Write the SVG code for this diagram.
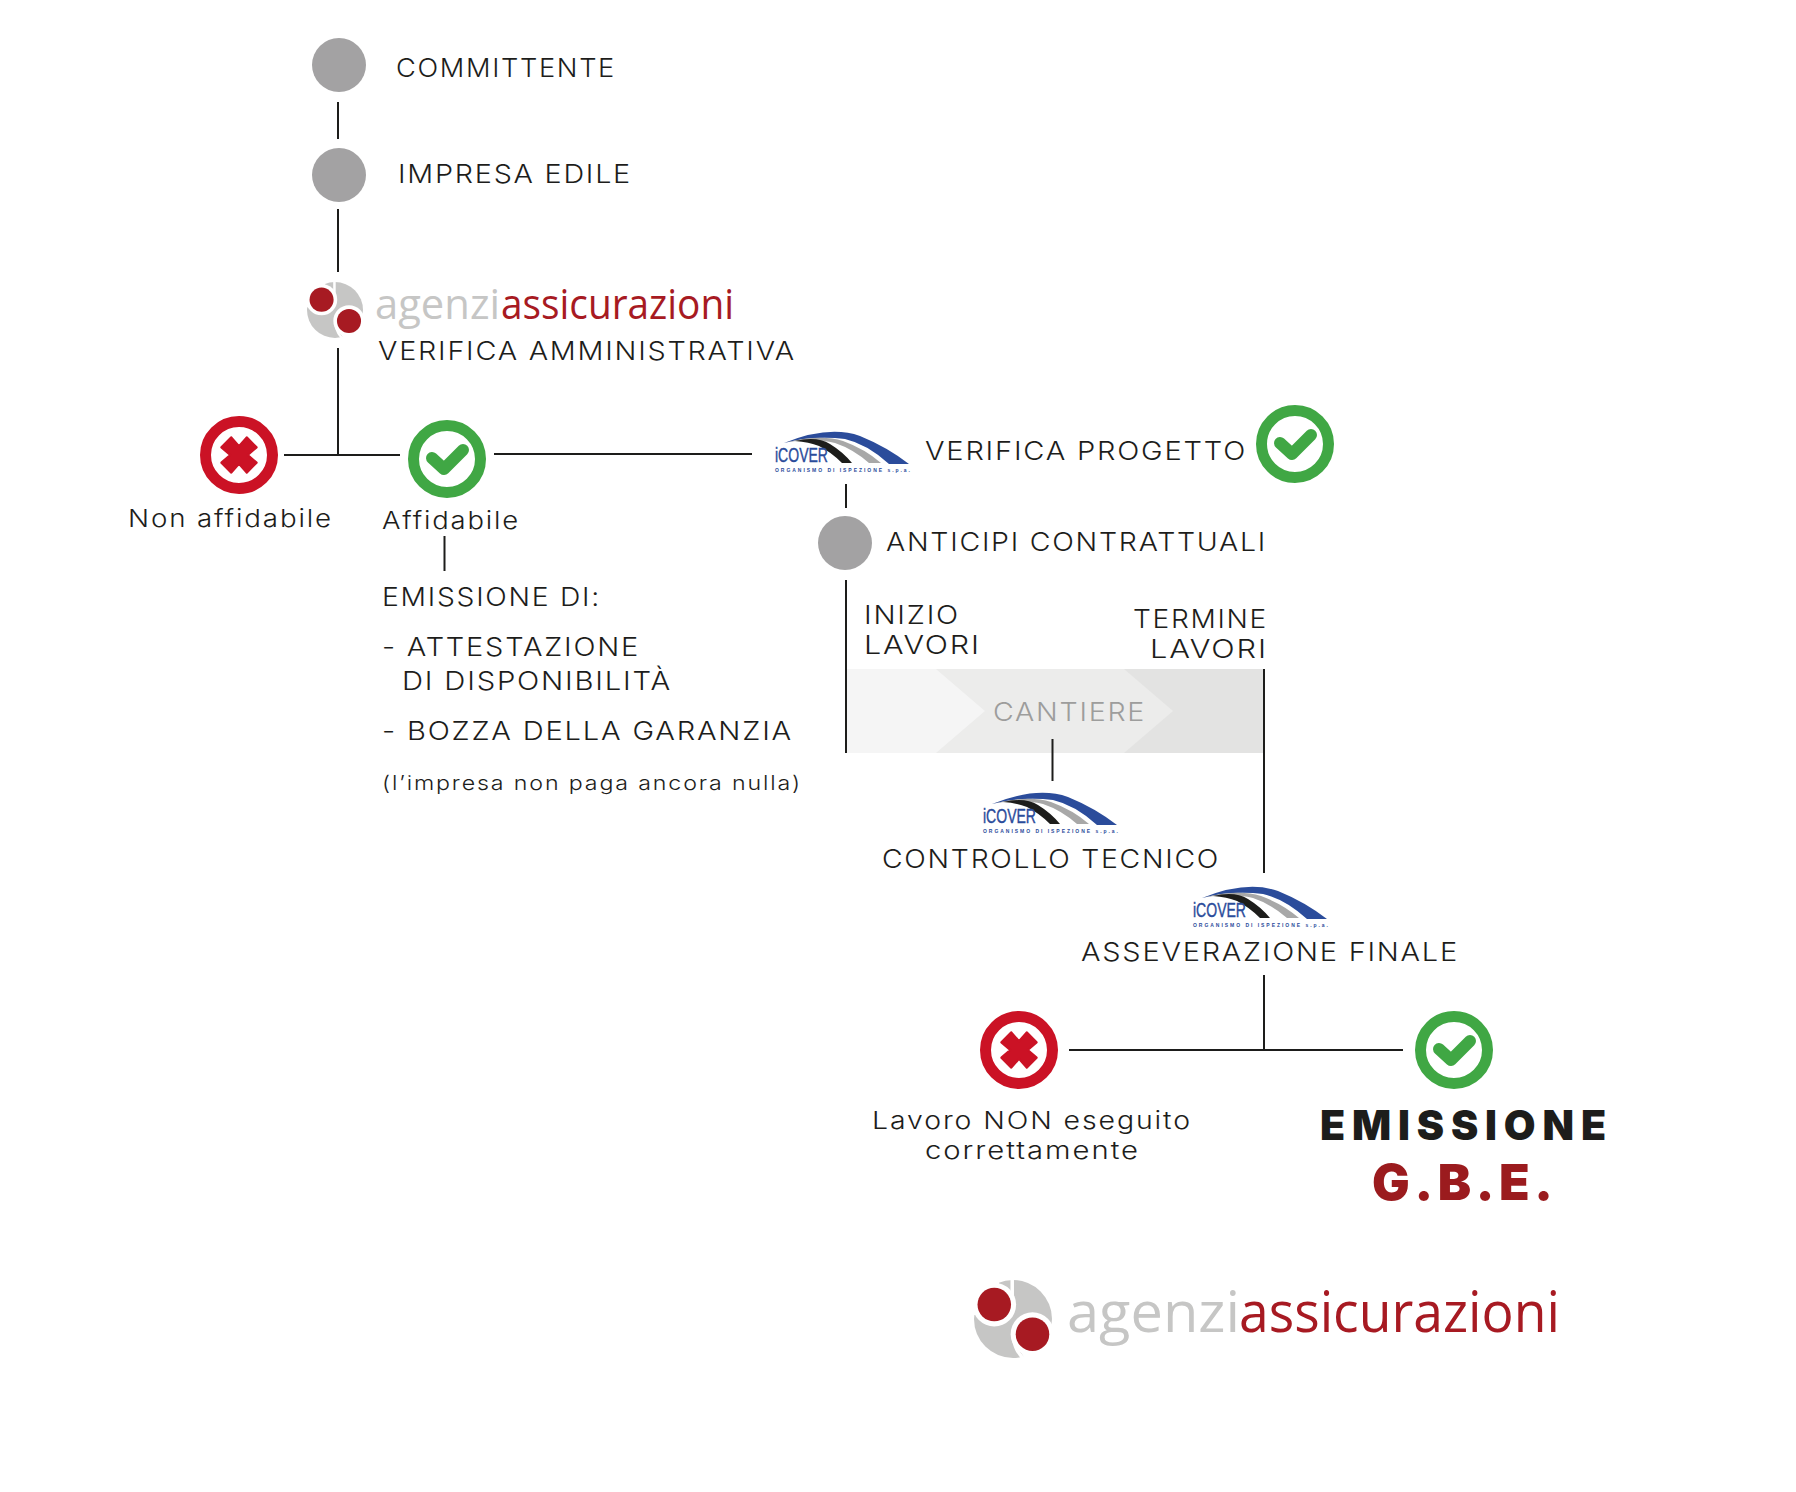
<svg xmlns="http://www.w3.org/2000/svg" xmlns:xlink="http://www.w3.org/1999/xlink" width="1796" height="1492" viewBox="0 0 1796 1492">
<style>
.t{font-family:"Inter","Liberation Sans",sans-serif;font-weight:300;font-size:26px;fill:#1d1d1b;letter-spacing:1.600px}
.s{font-size:24px}
.xs{font-size:20px}
.big{font-family:"Inter","Liberation Sans",sans-serif;font-weight:900}
.lg{font-family:"Open Sans","Liberation Sans",sans-serif}
.c line{stroke:#1d1d1b;stroke-width:2;fill:none}
.dot{fill:#a3a2a3}
.ic1{font-family:"Liberation Sans",sans-serif;font-size:20px;fill:#2b4c9b;stroke:#2b4c9b;stroke-width:.4}
.ic2{font-family:"Liberation Sans",sans-serif;font-weight:700;font-size:5px;fill:#2b4c9b}
</style>
<defs>
<g id="ok"><circle r="33.500" fill="#fff" stroke="#40a744" stroke-width="11"/><path d="M-15,-1 L-3,10 L16,-9" fill="none" stroke="#40a744" stroke-width="12" stroke-linejoin="round" stroke-linecap="round"/></g>
<g id="ko"><circle r="33.500" fill="#fff" stroke="#cb1225" stroke-width="11"/><path transform="scale(1.1)" d="M-7,-16 L0,-8 L7,-16 L16,-7 L8,0 L16,7 L7,16 L0,8 L-7,16 L-16,7 L-8,0 L-16,-7 Z" fill="#cb1225" stroke="#cb1225" stroke-width="2" stroke-linejoin="round"/></g>
<g id="ball">
<circle r="1" fill="#c6c6c5"/>
<path d="M-.02,-1.1 L-.02,-.2 M.02,.5 Q.05,.85 .36,1.1" fill="none" stroke="#fff" stroke-width=".09"/>
<path d="M-1.05,-1.05 L-.36,-1.05 L-.36,-.7 L-.8,-.1 L-1.05,-.1 Z" fill="#fff"/>
<path d="M1.1,.1 L1.1,1.1 L.36,1.1 L.2,.85 L.6,.75 Z" fill="#fff"/>
<circle cx="-.48" cy="-.37" r=".56" fill="#fff"/><circle cx=".5" cy=".39" r=".56" fill="#fff"/>
<circle cx="-.48" cy="-.37" r=".43" fill="#a71a22"/><circle cx=".5" cy=".39" r=".43" fill="#a71a22"/>
</g>
<g id="arcs">
<path d="M9,10 Q54,-8 85,3 Q112,14 134,31 L114,31 Q92,11 70,6 Q40,2 9,10 Z" fill="#2b4c9b"/>
<path d="M12,9 Q46,1 68,8 Q90,16 106,30 L94,30 Q78,16 60,10 Q40,5 12,9 Z" fill="#a8a8a8"/>
<path d="M20,8 Q42,3 55,11 Q68,19 77,30 L67,30 Q56,19 44,13 Q34,9 20,8 Z" fill="#1d1d1b"/>
</g>
</defs>
<g id="cantiere-band">
<rect x="847" y="669" width="417" height="84" fill="#e3e3e2"/>
<path d="M847,669 H1124 L1173,711 L1124,753 H847 Z" fill="#ececeb"/>
<path d="M847,669 H936 L985,711 L936,753 H847 Z" fill="#f5f5f5"/>
</g>
<g id="connectors" class="c">
<line x1="338" y1="102" x2="338" y2="139"/>
<line x1="338" y1="209" x2="338" y2="272"/>
<line x1="338" y1="348" x2="338" y2="455"/>
<line x1="284" y1="455" x2="400" y2="455"/>
<line x1="494" y1="454" x2="752" y2="454"/>
<line x1="444.500" y1="536" x2="444.500" y2="571"/>
<line x1="846" y1="484" x2="846" y2="508"/>
<line x1="846" y1="580" x2="846" y2="753"/>
<line x1="1052.500" y1="739" x2="1052.500" y2="781"/>
<line x1="1264" y1="669" x2="1264" y2="873"/>
<line x1="1264" y1="975" x2="1264" y2="1050"/>
<line x1="1069" y1="1050" x2="1403" y2="1050"/>
</g>
<g id="committente"><circle class="dot" cx="339" cy="65" r="27"/><text class="t" x="396" y="77" textLength="220" lengthAdjust="spacingAndGlyphs">COMMITTENTE</text></g>
<g id="impresa"><circle class="dot" cx="339" cy="175" r="27"/><text class="t" x="398" y="183" textLength="234" lengthAdjust="spacingAndGlyphs">IMPRESA EDILE</text></g>
<g id="verifica-amministrativa">
<use xlink:href="#ball" href="#ball" transform="translate(335,310) scale(28)"/>
<text class="lg" x="375" y="319" font-size="42" textLength="125" lengthAdjust="spacingAndGlyphs" fill="#c6c6c5">agenzi</text>
<text class="lg" x="501" y="319" font-size="42" font-weight="500" textLength="233" lengthAdjust="spacingAndGlyphs" fill="#a71a22">assicurazioni</text>
<text class="t" x="378" y="360" textLength="418" lengthAdjust="spacingAndGlyphs">VERIFICA AMMINISTRATIVA</text>
</g>
<g id="non-affidabile"><use xlink:href="#ko" href="#ko" x="239" y="455"/><text class="t s" x="128" y="527" textLength="205" lengthAdjust="spacingAndGlyphs">Non affidabile</text></g>
<g id="affidabile"><use xlink:href="#ok" href="#ok" x="447" y="459"/><text class="t s" x="382" y="529" textLength="138" lengthAdjust="spacingAndGlyphs">Affidabile</text></g>
<g id="emissione-di">
<text class="t" x="382" y="606" textLength="219" lengthAdjust="spacingAndGlyphs">EMISSIONE DI:</text>
<text class="t" x="382" y="656" textLength="258" lengthAdjust="spacingAndGlyphs">- ATTESTAZIONE</text>
<text class="t" x="402" y="690" textLength="270" lengthAdjust="spacingAndGlyphs">DI DISPONIBILITÀ</text>
<text class="t" x="382" y="740" textLength="411" lengthAdjust="spacingAndGlyphs">- BOZZA DELLA GARANZIA</text>
<text class="t xs" x="382" y="790" textLength="420" lengthAdjust="spacingAndGlyphs">(l’impresa non paga ancora nulla)</text>
</g>
<g id="verifica-progetto">
<use xlink:href="#arcs" href="#arcs" transform="translate(775,433)"/>
<text class="ic1" x="775" y="462" textLength="53" lengthAdjust="spacingAndGlyphs">iCOVER</text>
<text class="ic2" x="775" y="472" textLength="135">ORGANISMO DI ISPEZIONE s.p.a.</text>
<text class="t" x="925" y="460" textLength="322" lengthAdjust="spacingAndGlyphs">VERIFICA PROGETTO</text>
<use xlink:href="#ok" href="#ok" x="1295" y="444"/>
</g>
<g id="anticipi"><circle class="dot" cx="845" cy="543" r="27"/><text class="t" x="886" y="551" textLength="381" lengthAdjust="spacingAndGlyphs">ANTICIPI CONTRATTUALI</text></g>
<g id="cantiere">
<text class="t" x="993" y="721" textLength="153" lengthAdjust="spacingAndGlyphs" style="fill:#9d9d9c">CANTIERE</text>
<text class="t" x="864" y="624" textLength="96" lengthAdjust="spacingAndGlyphs">INIZIO</text>
<text class="t" x="864" y="654" textLength="117" lengthAdjust="spacingAndGlyphs">LAVORI</text>
<text class="t" x="1133" y="628" textLength="135" lengthAdjust="spacingAndGlyphs">TERMINE</text>
<text class="t" x="1150" y="658" textLength="118" lengthAdjust="spacingAndGlyphs">LAVORI</text>
</g>
<g id="controllo-tecnico">
<use xlink:href="#arcs" href="#arcs" transform="translate(983,794)"/>
<text class="ic1" x="983" y="823" textLength="53" lengthAdjust="spacingAndGlyphs">iCOVER</text>
<text class="ic2" x="983" y="833" textLength="135">ORGANISMO DI ISPEZIONE s.p.a.</text>
<text class="t" x="882" y="868" textLength="338" lengthAdjust="spacingAndGlyphs">CONTROLLO TECNICO</text>
</g>
<g id="asseverazione-finale">
<use xlink:href="#arcs" href="#arcs" transform="translate(1193,888)"/>
<text class="ic1" x="1193" y="917" textLength="53" lengthAdjust="spacingAndGlyphs">iCOVER</text>
<text class="ic2" x="1193" y="927" textLength="135">ORGANISMO DI ISPEZIONE s.p.a.</text>
<text class="t" x="1081" y="961" textLength="378" lengthAdjust="spacingAndGlyphs">ASSEVERAZIONE FINALE</text>
</g>
<g id="lavoro-non"><use xlink:href="#ko" href="#ko" x="1019" y="1050"/>
<text class="t s" x="872" y="1129" textLength="320" lengthAdjust="spacingAndGlyphs">Lavoro NON eseguito</text>
<text class="t s" x="925" y="1159" textLength="215" lengthAdjust="spacingAndGlyphs">correttamente</text></g>
<g id="emissione"><use xlink:href="#ok" href="#ok" x="1454" y="1050"/>
<text class="big" x="1320" y="1140" font-size="41" textLength="286" fill="#1d1d1b">EMISSIONE</text>
<text class="big" x="1372" y="1200" font-size="50" textLength="181" fill="#9b1b1e">G.B.E.</text></g>
<g id="logo-bottom">
<use xlink:href="#ball" href="#ball" transform="translate(1013,1319) scale(39)"/>
<text class="lg" x="1067" y="1332" font-size="57" textLength="173" lengthAdjust="spacingAndGlyphs" fill="#c6c6c5">agenzi</text>
<text class="lg" x="1239" y="1332" font-size="57" font-weight="500" textLength="321" lengthAdjust="spacingAndGlyphs" fill="#a71a22">assicurazioni</text>
</g>
</svg>
